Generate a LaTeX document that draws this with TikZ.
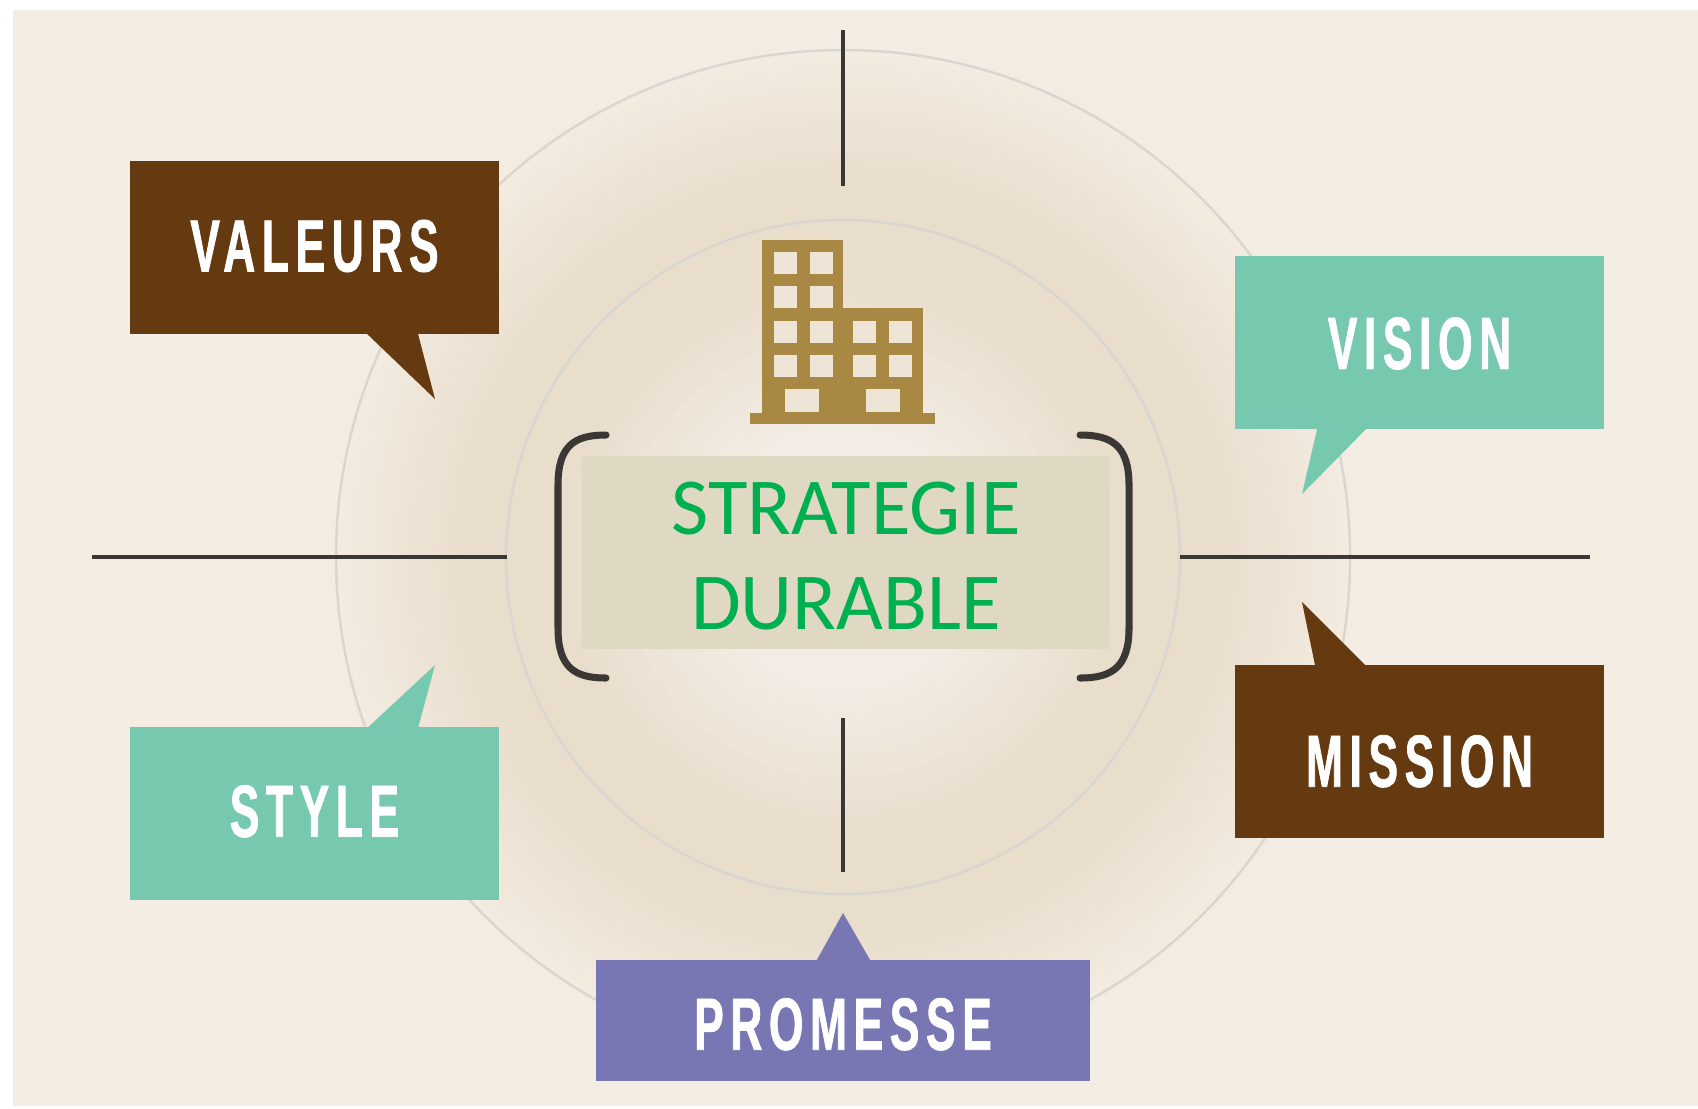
\documentclass[tikz,border=0pt]{standalone}
\usepackage{fontspec}
\setmainfont{Carlito}
\newfontfamily\tagfont[FakeStretch=.6,LetterSpace=9,FakeBold=1]{Liberation Sans Bold}
\definecolor{paper}{HTML}{F4EDE3}
\definecolor{glowdark}{HTML}{E9DDCC}
\definecolor{glowlight}{HTML}{F3ECE4}
\definecolor{ringcol}{HTML}{D9D6D2}
\definecolor{barcol}{HTML}{3A3735}
\definecolor{brownbox}{HTML}{653A10}
\definecolor{greenbox}{HTML}{76C8AE}
\definecolor{violetbox}{HTML}{7877B3}
\definecolor{buildcol}{HTML}{A98843}
\definecolor{wincol}{HTML}{EFE5D6}
\definecolor{midbox}{HTML}{DFD9C4}
\definecolor{midtext}{HTML}{00B050}
\pgfdeclareradialshading{glow}{\pgfpoint{0bp}{0bp}}{color(0bp)=(glowlight); color(6bp)=(glowlight); color(13bp)=(glowdark); color(17bp)=(glowdark); color(24bp)=(paper); color(50bp)=(paper)}
\tikzset{
  tagbox/.style={minimum width=3.69cm, minimum height=1.72cm, inner sep=0pt, text=white,
    text depth=0pt, text height=#1, font=\tagfont\fontsize{21}{21}\selectfont},
  ring/.style={draw=ringcol, line width=.7pt},
  axis/.style={draw=barcol, line width=1.1pt},
  bracket/.style={draw=barcol, line width=2pt, line cap=round}
}
\begin{document}
\begin{tikzpicture}[x=.01cm, y=-.01cm]
\useasboundingbox (0,0) rectangle (1698,1108);
\fill [paper] (13,10) rectangle (1698,1106);

% glow and rings
\shade [shading=glow] (843,557) circle [radius=545];
\draw [ring] (843,557) circle [radius=507];
\draw [ring] (843,557) circle [radius=337];
\draw [wincol!70!glowlight, line width=.7pt] (843,557) circle [radius=218];

% axes
\coordinate (topa) at (843,30);
\coordinate (topb) at (843,186);
\coordinate (bota) at (843,718);
\coordinate (botb) at (843,872);
\coordinate (lefta) at (92,557);
\coordinate (leftb) at (507,557);
\coordinate (righta) at (1180,557);
\coordinate (rightb) at (1590,557);
\draw [axis] (topa)--(topb);
\draw [axis] (bota)--(botb);
\draw [axis] (lefta)--(leftb);
\draw [axis] (righta)--(rightb);

% building
\fill [buildcol] (762,240) rectangle (843,413);
\fill [buildcol] (843,308) rectangle (923,413);
\fill [buildcol] (750,413) rectangle (935,424);
\foreach \x in {774,810}
  \foreach \y in {252,286,321,355}
  {
    \fill [wincol] (\x,\y) rectangle ++(23,22);
  }
\foreach \x in {853,889}
  \foreach \y in {321,355}
  {
    \fill [wincol] (\x,\y) rectangle ++(23,22);
  }
\fill [wincol] (785,389) rectangle (819,412);
\fill [wincol] (866,389) rectangle (900,412);

% middle
\draw [bracket] (606,435) .. controls (575,435) and (558,445) .. (558,485)--(558,628) .. controls (558,668) and (575,678) .. (606,678);
\draw [bracket] (1080,435) .. controls (1111,435) and (1129,445) .. (1129,485)--(1129,628) .. controls (1129,668) and (1111,678) .. (1080,678);
\node [fill=midbox, minimum width=5.27cm, minimum height=1.93cm, inner sep=0pt, align=center, text=midtext,
  font=\fontsize{23}{27}\selectfont] (strategie) at (846,552.5) {\rule{0pt}{16.7pt}STRATEGIE\\DURABLE};

% speech boxes
\fill [brownbox] (363,330)--(417,330)--(435,399)--cycle;
\node [tagbox=13.6pt, fill=brownbox] (valeurs) at (314.5,247.5) {VALEURS};
\fill [greenbox] (1318,425)--(1370,425)--(1302,494)--cycle;
\node [tagbox=15pt, fill=greenbox] (vision) at (1419.5,342.5) {VISION};
\fill [brownbox] (1316,670)--(1370,670)--(1302,602)--cycle;
\node [tagbox=20pt, fill=brownbox] (mission) at (1419.5,751.5) {MISSION};
\fill [greenbox] (363,732)--(417,732)--(435,665)--cycle;
\node [tagbox=13.2pt, fill=greenbox] (style) at (314.5,813.5) {STYLE};
\fill [violetbox] (814,965)--(873,965)--(843,913)--cycle;
\node [tagbox=16.6pt, fill=violetbox, minimum width=4.94cm, minimum height=1.21cm] (promesse) at (843,1020.5) {PROMESSE};
\end{tikzpicture}
\end{document}
